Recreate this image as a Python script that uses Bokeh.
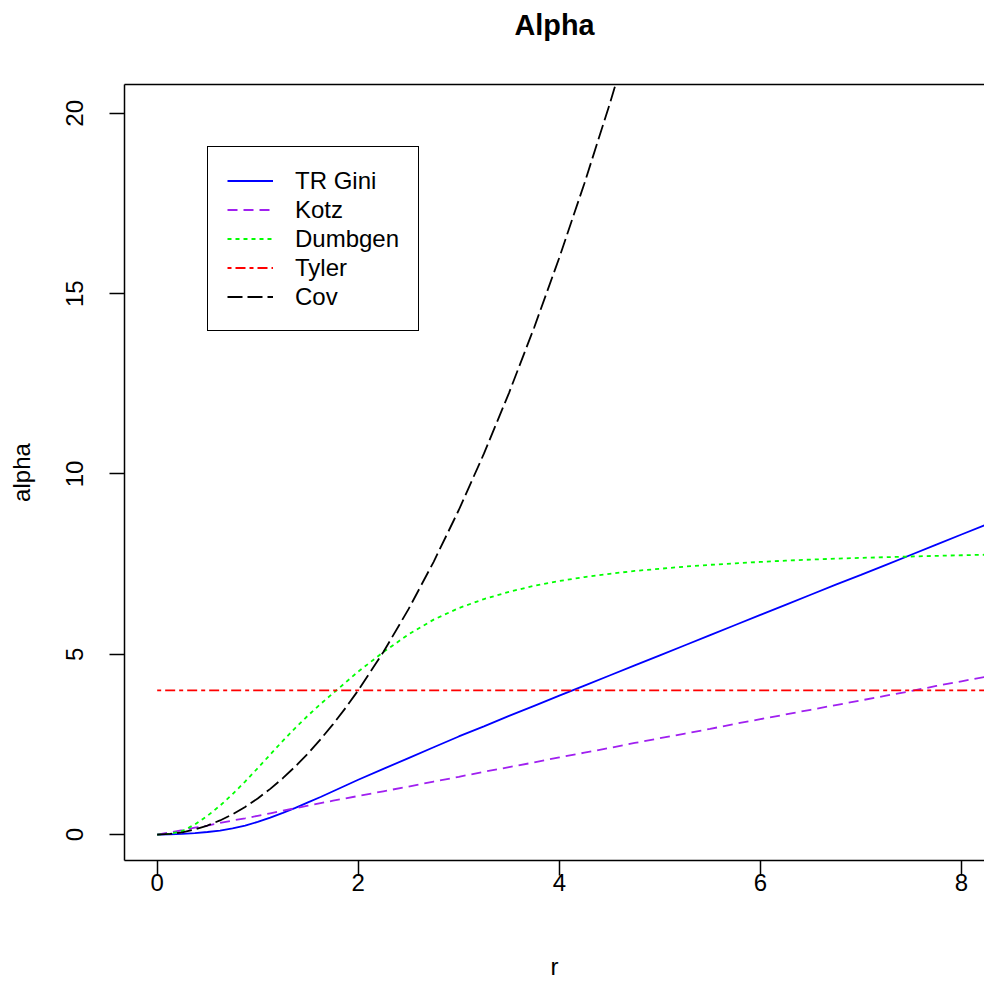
from bokeh.plotting import figure
from bokeh.models import Range1d, LinearAxis, FixedTicker, Legend, LegendItem
from bokeh.embed import file_html
from bokeh.resources import INLINE

# ---- data ----
r = [0, 0.125, 0.25, 0.375, 0.5, 0.625, 0.75, 0.875, 1, 1.125, 1.25, 1.375, 1.5, 1.625,
     1.75, 1.875, 2, 2.25, 2.5, 2.75, 3, 3.25, 3.5, 3.75, 4, 4.25, 4.5, 4.75, 5, 5.25,
     5.5, 5.75, 6, 6.25, 6.5, 6.75, 7, 7.25, 7.5, 7.75, 8, 8.25, 8.5]
tr_gini = [0, 0.005, 0.02, 0.04, 0.07, 0.11, 0.17, 0.25, 0.35, 0.47, 0.6, 0.74, 0.89,
           1.04, 1.2, 1.36, 1.52, 1.82, 2.12, 2.42, 2.72, 3.0, 3.29, 3.57, 3.85, 4.13,
           4.41, 4.69, 4.97, 5.25, 5.53, 5.81, 6.09, 6.37, 6.65, 6.93, 7.2, 7.48, 7.76,
           8.04, 8.32, 8.6, 8.88]
kotz = [0, 0.06, 0.12, 0.19, 0.25, 0.32, 0.39, 0.45, 0.52, 0.59, 0.66, 0.73, 0.8, 0.87,
        0.94, 1.0, 1.07, 1.2, 1.33, 1.47, 1.6, 1.74, 1.87, 2.0, 2.14, 2.27, 2.4, 2.54,
        2.67, 2.8, 2.93, 3.07, 3.2, 3.33, 3.46, 3.59, 3.72, 3.85, 3.98, 4.12, 4.25, 4.38,
        4.51]
dumbgen = [0, 0.02, 0.1, 0.28, 0.52, 0.8, 1.12, 1.47, 1.84, 2.22, 2.6, 2.96, 3.3, 3.62,
           3.92, 4.22, 4.52, 5.06, 5.55, 5.96, 6.28, 6.53, 6.73, 6.9, 7.03, 7.14, 7.23,
           7.31, 7.37, 7.43, 7.48, 7.52, 7.56, 7.595, 7.625, 7.65, 7.672, 7.692, 7.71,
           7.728, 7.745, 7.76, 7.775]
tyler = [4] * len(r)
cov = [0, 0.015625, 0.0625, 0.140625, 0.25, 0.390625, 0.5625, 0.765625, 1, 1.265625,
       1.5625, 1.890625, 2.25, 2.640625, 3.0625, 3.515625, 4, 5.0625, 6.25, 7.5625, 9,
       10.5625, 12.25, 14.0625, 16, 18.0625, 20.25, 22.5625]
r_cov = r[:len(cov)]
x_ticks = [0, 2, 4, 6, 8]
y_ticks = [0, 5, 10, 15, 20]
labels = ["TR Gini", "Kotz", "Dumbgen", "Tyler", "Cov"]
title_text = "Alpha"

FONT = "Liberation Sans"

p = figure(width=984, height=982, x_range=Range1d(-0.325, 8.229),
           y_range=Range1d(-0.72, 20.8), output_backend="svg", toolbar_location=None,
           min_border_left=124, min_border_right=0, min_border_top=84,
           min_border_bottom=119, x_axis_label="r", y_axis_label="alpha")
p.grid.visible = False
p.outline_line_color = None
p.background_fill_color = "white"
p.border_fill_color = "white"

for ax in (p.xaxis[0], p.yaxis[0]):
    ax.axis_line_width = 1.5
    ax.axis_line_color = "black"
    ax.major_tick_line_width = 1.5
    ax.major_tick_line_color = "black"
    ax.major_tick_out = 15
    ax.major_tick_in = 0
    ax.minor_tick_out = 0
    ax.minor_tick_in = 0
    ax.major_label_text_font = FONT
    ax.major_label_text_font_size = "24px"
    ax.major_label_text_color = "black"
    ax.axis_label_text_font = FONT
    ax.axis_label_text_font_size = "24px"
    ax.axis_label_text_font_style = "normal"
    ax.axis_label_text_color = "black"
p.xaxis[0].ticker = FixedTicker(ticks=x_ticks)
p.yaxis[0].ticker = FixedTicker(ticks=y_ticks)
p.xaxis[0].major_label_standoff = -2
p.xaxis[0].axis_label_standoff = 59
p.yaxis[0].major_label_orientation = "vertical"
p.yaxis[0].major_label_standoff = 26
p.yaxis[0].axis_label_standoff = 29

# top side of the box: an axis line with no ticks, carrying the chart title as its label
top = LinearAxis(ticker=FixedTicker(ticks=[]), axis_line_width=1.5, axis_line_color="black",
                 major_tick_out=0, major_tick_in=0, minor_tick_out=0, minor_tick_in=0,
                 major_label_text_font_size="0px",
                 axis_label=title_text, axis_label_text_font=FONT,
                 axis_label_text_font_size="28.8px", axis_label_text_font_style="bold",
                 axis_label_text_color="black", axis_label_standoff=44)
p.add_layout(top, "above")

lw = 1.8
l1 = p.line(r, tr_gini, line_color="#0000FF", line_width=lw)
l2 = p.line(r, kotz, line_color="#A020F0", line_width=lw, line_dash="10 6")
l3 = p.line(r, dumbgen, line_color="#00FF00", line_width=lw, line_dash="4 4")
l4 = p.line(r, tyler, line_color="#FF0000", line_width=lw, line_dash="4 4 10 4")
l5 = p.line(r_cov, cov, line_color="black", line_width=lw, line_dash="15 5")

legend = Legend(items=[LegendItem(label=lab, renderers=[g])
                       for lab, g in zip(labels, [l1, l2, l3, l4, l5])],
                location=(83, 529), orientation="vertical",
                border_line_color="black", border_line_width=1.5, border_line_alpha=1.0,
                background_fill_color="white", background_fill_alpha=1.0,
                padding=19, spacing=0, margin=0, label_height=29, glyph_height=29,
                glyph_width=46, label_standoff=22,
                label_text_font=FONT, label_text_font_size="24px",
                label_text_color="black")
p.add_layout(legend)

open("out.html", "w").write(file_html(p, INLINE))
